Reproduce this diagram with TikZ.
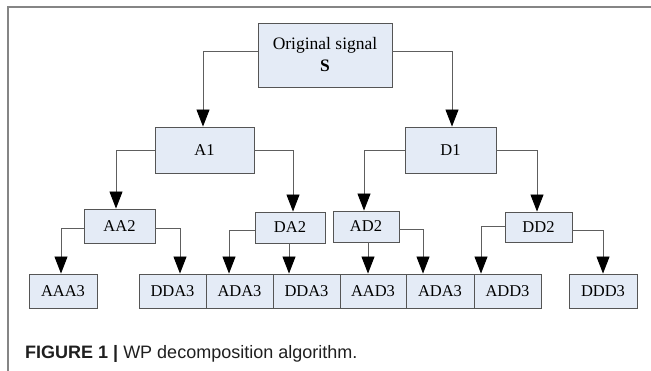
\documentclass[tikz,border=0pt]{standalone}
\usepackage{fontspec}
\setmainfont{Liberation Serif}
\newfontfamily\capfont{Liberation Sans}
\usetikzlibrary{arrows.meta}
\definecolor{boxfill}{HTML}{E4EBF6}
\definecolor{boxdraw}{HTML}{555555}
\definecolor{linecol}{HTML}{5E5E5E}
\definecolor{framecol}{HTML}{858585}
\tikzset{
  box/.style={draw=boxdraw,fill=boxfill,line width=0.9pt,inner sep=0pt,align=center,font=\fontsize{16.5}{19}\selectfont},
  arr/.style={draw=linecol,line width=0.9pt,-{Triangle[width=13pt,length=17pt,fill=black,color=black]}},
  conn/.style={draw=linecol,line width=0.9pt}
}
\begin{document}
\begin{tikzpicture}[x=1pt,y=-1pt]
\useasboundingbox (0,0) rectangle (651,371);
\draw[framecol,line width=2pt] (8,371) -- (8,7) -- (651,7);
% level 0
\node[box,minimum width=134pt,minimum height=64pt,font=\fontsize{17.5}{20}\selectfont] (S) at (325,55) {Original signal\\[2pt]\textbf{S}};
% level 1
\node[box,minimum width=99pt,minimum height=46pt] (A1) at (204.5,150) {A1};
\node[box,minimum width=91pt,minimum height=46pt] (D1) at (450.5,150) {D1};
% level 2
\node[box,minimum width=71pt,minimum height=34pt] (AA2) at (119.5,226) {AA2};
\node[box,minimum width=70pt,minimum height=31pt] (DA2) at (290,227.5) {DA2};
\node[box,minimum width=66pt,minimum height=31pt] (AD2) at (366,226.5) {AD2};
\node[box,minimum width=67pt,minimum height=30pt] (DD2) at (538.5,227) {DD2};
% level 3
\node[box,minimum width=68pt,minimum height=34pt] (AAA3) at (63,291) {AAA3};
\node[box,minimum width=67pt,minimum height=34pt] (DDA3a) at (172.5,291) {DDA3};
\node[box,minimum width=67pt,minimum height=34pt] (ADA3a) at (239.5,291) {ADA3};
\node[box,minimum width=67pt,minimum height=34pt] (DDA3b) at (306.5,291) {DDA3};
\node[box,minimum width=66pt,minimum height=34pt] (AAD3) at (373,291) {AAD3};
\node[box,minimum width=68pt,minimum height=34pt] (ADA3b) at (440,291) {ADA3};
\node[box,minimum width=67pt,minimum height=34pt] (ADD3) at (507.5,291) {ADD3};
\node[box,minimum width=68pt,minimum height=34pt] (DDD3) at (603,291) {DDD3};
% connectors
\draw[arr] ([yshift=4pt]S.west) -| ([xshift=-1.5pt]A1.north);
\draw[arr] ([yshift=4pt]S.east) -| ([xshift=1.5pt]D1.north);
\draw[arr] (A1.west) -| ([xshift=-3.5pt]AA2.north);
\draw[arr] (A1.east) -| ([xshift=3pt]DA2.north);
\draw[arr] (D1.west) -| ([xshift=-2pt]AD2.north);
\draw[arr] (D1.east) -| ([xshift=-1.5pt]DD2.north);
\draw[arr] ([yshift=-2pt]AA2.west) -| ([xshift=-2pt]AAA3.north);
\draw[arr] ([yshift=-2pt]AA2.east) -| ([xshift=7.5pt]DDA3a.north);
\draw[arr] ([yshift=-3pt]DA2.west) -| ([xshift=-10.5pt]ADA3a.north);
\draw[arr] ([xshift=-1pt]DA2.south) -- ([xshift=-1pt]DA2.south |- DDA3b.north);
\draw[arr] ([xshift=2pt]AD2.south) -- ([xshift=2pt]AD2.south |- AAD3.north);
\draw[arr] ([yshift=-2.5pt]AD2.east) -| ([xshift=-17pt]ADA3b.north);
\draw[arr] ([yshift=1pt]DD2.west) -| ([xshift=-26.5pt]ADD3.north);
\draw[arr] ([yshift=-3pt]DD2.east) -| (DDD3.north);
% caption
\node[anchor=base west,inner sep=0pt,text=black!88,font=\capfont\fontsize{18}{21}\selectfont] (cap) at (25,359) {\textbf{FIGURE 1 |} WP decomposition algorithm.};
\end{tikzpicture}
\end{document}
